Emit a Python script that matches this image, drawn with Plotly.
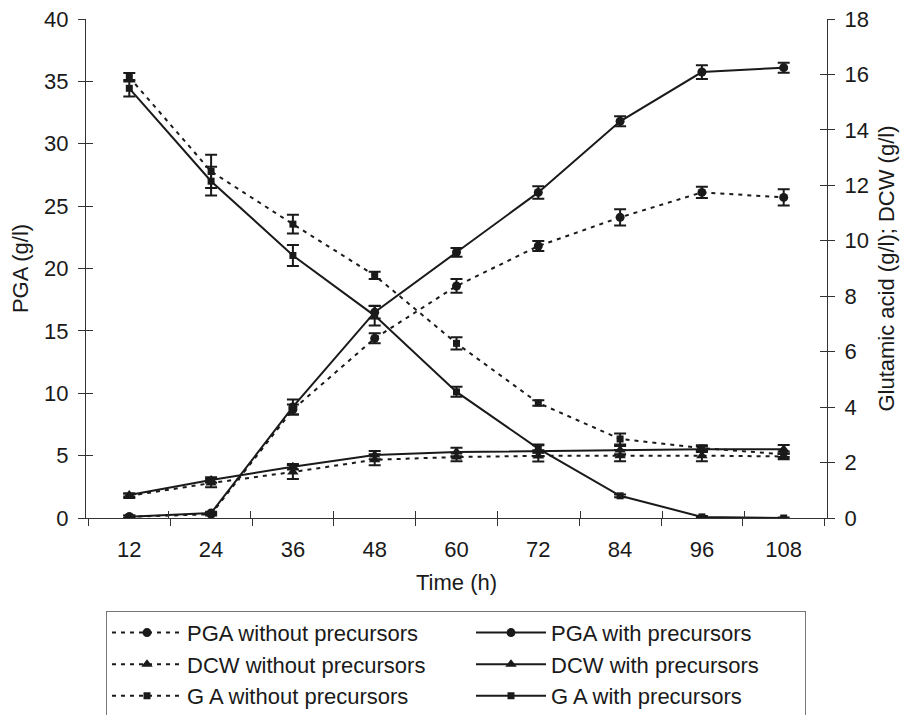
import plotly.graph_objects as go

time_h = ["12", "24", "36", "48", "60", "72", "84", "96", "108"]

pga_without = [0.1, 0.3, 8.7, 14.4, 18.6, 21.8, 24.1, 26.1, 25.7]
pga_without_err = [0.1, 0.1, 0.4, 0.4, 0.55, 0.4, 0.65, 0.45, 0.65]
pga_with = [0.1, 0.4, 8.9, 16.5, 21.3, 26.1, 31.8, 35.75, 36.1]
pga_with_err = [0.1, 0.1, 0.6, 0.5, 0.35, 0.5, 0.4, 0.55, 0.4]

dcw_without = [0.8, 1.26, 1.66, 2.1, 2.2, 2.24, 2.25, 2.25, 2.22]
dcw_without_err = [0.08, 0.15, 0.25, 0.2, 0.15, 0.2, 0.2, 0.2, 0.1]
dcw_with = [0.83, 1.37, 1.85, 2.27, 2.38, 2.42, 2.45, 2.48, 2.48]
dcw_with_err = [0.05, 0.1, 0.1, 0.15, 0.15, 0.2, 0.15, 0.1, 0.15]

ga_without = [15.9, 12.5, 10.6, 8.75, 6.3, 4.15, 2.85, 2.52, 2.3]
ga_without_err = [0.15, 0.6, 0.34, 0.13, 0.22, 0.1, 0.2, 0.1, 0.1]
ga_with = [15.5, 12.15, 9.47, 7.3, 4.55, 2.5, 0.8, 0.04, 0.0]
ga_with_err = [0.3, 0.52, 0.38, 0.36, 0.18, 0.15, 0.05, 0.03, 0.02]

FONT = "Liberation Sans, Arial, Helvetica, sans-serif"
BLACK = "#1a1a1a"
AXIS = "#333333"
FS = 22


def series(name, y, err, symbol, size, dashed, axis, lw):
    return go.Scatter(
        x=time_h, y=y, name=name, yaxis=axis, mode="lines+markers",
        line=dict(color=BLACK, width=2, dash="4px,5px" if dashed else "solid"),
        marker=dict(symbol=symbol, size=size, color=BLACK),
        error_y=dict(type="data", array=err, visible=True, color=BLACK,
                     thickness=2, width=6),
        legendwidth=lw,
    )


fig = go.Figure()
fig.add_trace(series("PGA without precursors", pga_without, pga_without_err, "circle", 9, True, "y", 279))
fig.add_trace(series("PGA with precursors", pga_with, pga_with_err, "circle", 9, False, "y", 249))
fig.add_trace(series("DCW without precursors", dcw_without, dcw_without_err, "triangle-up", 10, True, "y2", 279))
fig.add_trace(series("DCW with precursors", dcw_with, dcw_with_err, "triangle-up", 10, False, "y2", 249))
fig.add_trace(series("G A without precursors", ga_without, ga_without_err, "square", 7, True, "y2", 279))
fig.add_trace(series("G A with precursors", ga_with, ga_with_err, "square", 7, False, "y2", 249))

# invisible helper traces so the inner (crossing) tick axes are drawn
fig.add_trace(go.Scatter(x=[None], y=[None], xaxis="x2", yaxis="y3", showlegend=False, hoverinfo="skip"))
fig.add_trace(go.Scatter(x=[None], y=[None], xaxis="x2", yaxis="y4", showlegend=False, hoverinfo="skip"))

axis_common = dict(showgrid=False, zeroline=False, showline=True, linecolor=AXIS,
                   linewidth=1, ticks="outside", ticklen=7, tickcolor=AXIS,
                   ticklabeloverflow="allow",
                   tickfont=dict(size=FS, color=BLACK, family=FONT))
inner = dict(showgrid=False, zeroline=False, showline=False, ticks="inside", ticklen=7,
             tickcolor=AXIS, showticklabels=False)

boundaries = [i - 0.5 for i in range(len(time_h) + 1)]

# page body has an 8px margin, so the figure is 8px smaller than the window
fig.update_layout(
    width=900, height=707,
    margin=dict(l=78, r=81, t=11, b=197, autoexpand=False),
    paper_bgcolor="white", plot_bgcolor="white",
    font=dict(family=FONT, size=FS, color=BLACK),
    xaxis=dict(type="category", tickson="boundaries", ticklabelstandoff=12,
               title=dict(text="Time (h)", font=dict(size=FS), standoff=13),
               **axis_common),
    xaxis2=dict(overlaying="x", anchor="y", side="bottom", range=[-0.5, len(time_h) - 0.5],
                tickmode="array", tickvals=boundaries, **inner),
    yaxis=dict(range=[0, 40], dtick=5, ticklabelstandoff=5,
               title=dict(text="PGA (g/l)", font=dict(size=FS), standoff=12),
               **axis_common),
    yaxis2=dict(range=[0, 18], dtick=2, overlaying="y", side="right", ticklabelstandoff=5,
                title=dict(text="Glutamic acid (g/l); DCW (g/l)", font=dict(size=FS), standoff=10),
                **axis_common),
    yaxis3=dict(overlaying="y", anchor="x2", side="left", range=[0, 40], dtick=5, **inner),
    yaxis4=dict(overlaying="y", anchor="x2", side="right", range=[0, 18], dtick=2, **inner),
    showlegend=True,
    legend=dict(orientation="h", x=0.027, y=-0.186, xanchor="left", yanchor="top",
                bordercolor="#777777", borderwidth=1, bgcolor="white",
                entrywidth=279, itemwidth=70, tracegroupgap=0,
                font=dict(size=FS, family=FONT, color=BLACK)),
)

fig.write_html("out.html")
